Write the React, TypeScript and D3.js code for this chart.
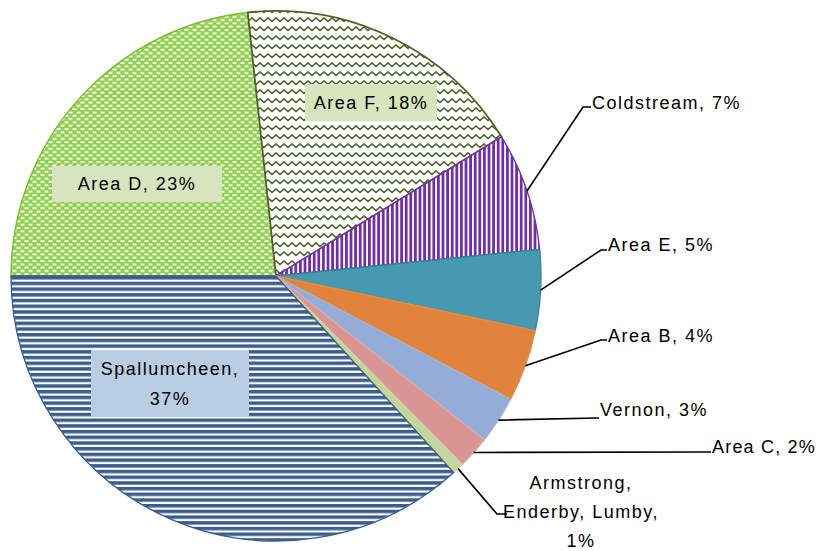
import React from 'react';
import * as d3 from 'd3';

// Slice data, clockwise starting at 9 o'clock
const names = [
  'Area D',
  'Area F',
  'Coldstream',
  'Area E',
  'Area B',
  'Vernon',
  'Area C',
  'Armstrong, Enderby, Lumby',
  'Spallumcheen',
];
const shares = [23.3, 17.9, 7.2, 4.9, 4.4, 2.9, 2.0, 0.7, 36.7];

const width = 822;
const height = 551;
const cx = 276;
const cy = 276;
const radius = 265;

const font = '"Liberation Sans", Arial, sans-serif';
const fontSize = 18;
const spacing = 1.5;

// fill / stroke per slice
const fills: Record<string, string> = {
  'Area D': 'url(#pat-dash)',
  'Area F': 'url(#pat-zigzag)',
  Coldstream: 'url(#pat-vert)',
  'Area E': '#4599B1',
  'Area B': '#E0843D',
  Vernon: '#95ACD6',
  'Area C': '#D99594',
  'Armstrong, Enderby, Lumby': '#C3D69B',
  Spallumcheen: 'url(#pat-horiz)',
};
const strokes: Record<string, string> = {
  'Area D': '#7EB53F',
  'Area F': '#4F6228',
  Coldstream: '#7030A0',
  'Area E': '#31859C',
  'Area B': '#F08A3A',
  Vernon: '#9DB6DC',
  'Area C': '#E0A8A7',
  'Armstrong, Enderby, Lumby': '#C9DBA6',
  Spallumcheen: '#385D8A',
};

// labels drawn inside the pie with a coloured box
const insideLabels: Record<string, { x: number; y: number; w: number; h: number; bg: string; lines: string[] }> = {
  'Area D': { x: 52, y: 166, w: 170, h: 36, bg: '#D7E4BD', lines: ['Area D, 23%'] },
  'Area F': { x: 305, y: 84, w: 132, h: 37, bg: '#D7E4BD', lines: ['Area F, 18%'] },
  Spallumcheen: { x: 91, y: 350, w: 158, h: 67, bg: '#B9CDE5', lines: ['Spallumcheen,', '37%'] },
};

// labels outside with leader lines: elbow point and text anchor
const outsideLabels: Record<string, { ex: number; ey: number; tx: number; ty: number; anchor: string; lines: string[] }> = {
  Coldstream: { ex: 583, ey: 107, tx: 592, ty: 103, anchor: 'start', lines: ['Coldstream, 7%'] },
  'Area E': { ex: 601, ey: 250, tx: 608, ty: 245, anchor: 'start', lines: ['Area E, 5%'] },
  'Area B': { ex: 601, ey: 340, tx: 608, ty: 336, anchor: 'start', lines: ['Area B, 4%'] },
  Vernon: { ex: 597, ey: 418, tx: 600, ty: 410, anchor: 'start', lines: ['Vernon, 3%'] },
  'Area C': { ex: 706, ey: 452, tx: 712, ty: 447, anchor: 'start', lines: ['Area C, 2%'] },
  'Armstrong, Enderby, Lumby': {
    ex: 497,
    ey: 514,
    tx: 581,
    ty: 483,
    anchor: 'middle',
    lines: ['Armstrong,', 'Enderby, Lumby,', '1%'],
  },
};

const App = () => {
  const pie = d3
    .pie<number>()
    .sort(null)
    .value((d) => d)
    .startAngle(-Math.PI / 2)
    .endAngle((3 * Math.PI) / 2);
  const arcs = pie(shares);
  const arc = d3.arc<d3.PieArcDatum<number>>().innerRadius(0).outerRadius(radius);

  return (
    <svg
      width={width}
      height={height}
      style={{ position: 'absolute', left: 0, top: 0, background: '#fff' }}
    >
      <defs>
        <pattern id="pat-dash" patternUnits="userSpaceOnUse" width={8} height={6.6}>
          <rect width={8} height={6.6} fill="#92D050" />
          <rect x={0.5} y={0.6} width={4} height={1.8} fill="#fff" />
          <rect x={4.5} y={3.9} width={4} height={1.8} fill="#fff" />
          <rect x={-3.5} y={3.9} width={4} height={1.8} fill="#fff" />
        </pattern>
        <pattern id="pat-zigzag" patternUnits="userSpaceOnUse" width={8} height={9}>
          <rect width={8} height={9} fill="#fff" />
          <path d="M-2,4 L0,3 L4,6.5 L8,3 L10,4" fill="none" stroke="#4F6228" strokeWidth={1.6} />
        </pattern>
        <pattern id="pat-vert" patternUnits="userSpaceOnUse" width={4.6} height={10}>
          <rect width={4.6} height={10} fill="#fff" />
          <rect x={0} y={0} width={2.8} height={10} fill="#7030A0" />
        </pattern>
        <pattern id="pat-horiz" patternUnits="userSpaceOnUse" width={10} height={5.7}>
          <rect width={10} height={5.7} fill="#fff" />
          <rect x={0} y={0} width={10} height={3.5} fill="#3B5E8E" />
        </pattern>
      </defs>

      <g transform={`translate(${cx},${cy})`}>
        {arcs.map((a, i) => (
          <path
            key={names[i]}
            d={arc(a) ?? ''}
            fill={fills[names[i]]}
            stroke={strokes[names[i]]}
            strokeWidth={names[i] === 'Area F' ? 1.8 : 1.3}
            strokeLinejoin="round"
          />
        ))}
      </g>

      {/* leader lines */}
      {arcs.map((a, i) => {
        const lab = outsideLabels[names[i]];
        if (!lab) return null;
        const mid = (a.startAngle + a.endAngle) / 2;
        const sx = cx + radius * Math.sin(mid);
        const sy = cy - radius * Math.cos(mid);
        const endX = lab.anchor === 'start' ? lab.tx - 1 : lab.ex + 10;
        return (
          <polyline
            key={`l-${names[i]}`}
            points={`${sx},${sy} ${lab.ex},${lab.ey} ${endX},${lab.ey}`}
            fill="none"
            stroke="#000"
            strokeWidth={1.6}
          />
        );
      })}

      {/* outside labels */}
      {names.map((n) => {
        const lab = outsideLabels[n];
        if (!lab) return null;
        return (
          <text
            key={`t-${n}`}
            x={lab.tx}
            y={lab.ty}
            textAnchor={lab.anchor}
            fontFamily={font}
            fontSize={fontSize}
            letterSpacing={n === 'Area C' ? 1.2 : spacing}
            fill="#000"
          >
            {lab.lines.map((line, j) => (
              <tspan key={j} x={lab.tx} dy={j === 0 ? '0.35em' : 29}>
                {line}
              </tspan>
            ))}
          </text>
        );
      })}

      {/* inside labels */}
      {names.map((n) => {
        const lab = insideLabels[n];
        if (!lab) return null;
        const mx = lab.x + lab.w / 2;
        const lineH = 30;
        const firstY = lab.y + lab.h / 2 - ((lab.lines.length - 1) * lineH) / 2;
        return (
          <g key={`in-${n}`}>
            <rect x={lab.x} y={lab.y} width={lab.w} height={lab.h} fill={lab.bg} />
            <text
              x={mx}
              y={firstY}
              textAnchor="middle"
              fontFamily={font}
              fontSize={fontSize}
              letterSpacing={spacing}
              fill="#000"
            >
              {lab.lines.map((line, j) => (
                <tspan key={j} x={mx} dy={j === 0 ? '0.35em' : lineH}>
                  {line}
                </tspan>
              ))}
            </text>
          </g>
        );
      })}
    </svg>
  );
};

export default App;
